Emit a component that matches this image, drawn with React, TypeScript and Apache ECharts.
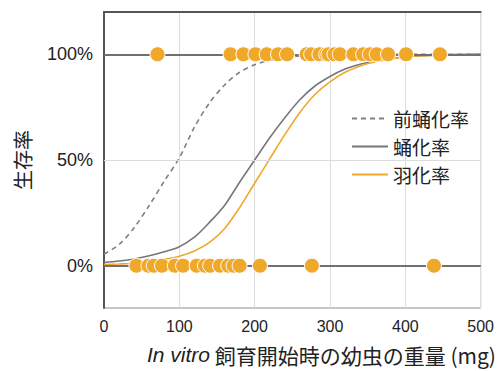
import React, { useEffect, useRef } from "react";
import * as echarts from "echarts";

// sample positions along the x axis (mg) for the fitted curves
const curveX = [0, 20, 40, 60, 80, 100, 120, 140, 160, 180, 200, 220, 240, 260, 280, 300, 320, 340, 360, 380, 400, 420, 440, 460, 480, 500];
// 前蛹化率 (dashed)
const prepupa = [0.055, 0.1, 0.18, 0.285, 0.4, 0.51, 0.655, 0.77, 0.855, 0.915, 0.95, 0.972, 0.985, 0.992, 0.996, 0.998, 0.999, 1, 1, 1, 1, 1, 1, 1, 1, 1];
// 蛹化率 (gray)
const pupa = [0.015, 0.022, 0.032, 0.047, 0.066, 0.09, 0.135, 0.205, 0.285, 0.395, 0.5, 0.605, 0.7, 0.785, 0.85, 0.895, 0.93, 0.953, 0.967, 0.978, 0.987, 0.993, 0.996, 0.998, 0.999, 1];
// 羽化率 (orange)
const eclosion = [0.005, 0.008, 0.012, 0.02, 0.03, 0.045, 0.07, 0.11, 0.175, 0.275, 0.39, 0.505, 0.62, 0.725, 0.81, 0.87, 0.915, 0.945, 0.965, 0.978, 0.987, 0.993, 0.996, 0.998, 0.999, 1];

// individual larvae weights (mg): survived (100%) and died (0%)
const survived = [71, 168, 185, 201, 216, 231, 243, 269, 275, 286, 295, 298, 306, 313, 331, 344, 353, 362, 377, 401, 446];
const died = [43, 59, 66, 77, 94, 105, 123, 134, 141, 154, 165, 172, 180, 207, 276, 438];

const seriesNames = ["前蛹化率", "蛹化率", "羽化率"];
const yTicks = [0, 0.5, 1];

const ORANGE = "#f0a82a";
const GRAY = "#76777b";
const FONT = "'Liberation Sans', Arial, 'Noto Sans CJK JP', sans-serif";
const CJK = "'Noto Sans CJK JP', 'Liberation Sans', sans-serif";

export default function App() {
  const ref = useRef<HTMLDivElement>(null);
  useEffect(() => {
    if (!ref.current) return;
    const chart = echarts.init(ref.current, null, { renderer: "svg" });
    const curve = (vals: number[]) => curveX.map((x, i) => [x, vals[i]]);
    const lineSeries = (name: string, vals: number[], color: string, type: any) => ({
      name,
      type: "line",
      data: curve(vals),
      smooth: 0.3,
      symbol: "none",
      showSymbol: false,
      z: 3,
      lineStyle: { color, width: 1.6, type },
      itemStyle: { color },
    });
    chart.setOption({
      animation: false,
      grid: { left: 104, right: 16, top: 12, bottom: 63, show: true, borderColor: "#8c8c8c", borderWidth: 1 },
      legend: {
        orient: "vertical",
        left: 346,
        top: 104,
        itemWidth: 36,
        itemHeight: 10,
        itemGap: 9,
        data: seriesNames,
        itemStyle: { color: "transparent", borderWidth: 0, opacity: 0 },
        textStyle: { fontFamily: CJK, fontSize: 19, color: "#222" },
      },
      xAxis: [
        {
          type: "value",
          min: 0,
          max: 500,
          interval: 100,
          axisLine: { show: true, lineStyle: { color: "#8c8c8c", width: 1 } },
          axisTick: { show: false },
          axisLabel: { fontFamily: FONT, fontSize: 16, color: "#222", margin: 10 },
          splitLine: { show: true, lineStyle: { color: "#dcdcdc", width: 1 } },
        },
        {
          type: "value",
          position: "top",
          min: 0,
          max: 500,
          axisLine: { show: true, lineStyle: { color: "#555", width: 2 } },
          axisTick: { show: false },
          axisLabel: { show: false },
          splitLine: { show: false },
        },
      ],
      yAxis: {
        type: "value",
        min: -0.2,
        max: 1.2,
        interval: 0.1,
        axisLine: { show: true, lineStyle: { color: "#555", width: 2 } },
        axisTick: { show: false },
        splitLine: { show: false },
        axisLabel: {
          fontFamily: FONT,
          fontSize: 18,
          color: "#222",
          margin: 11,
          formatter: (v: number) => {
            const r = Math.round(v * 100) / 100;
            return yTicks.includes(r) ? Math.round(r * 100) + "%" : "";
          },
        },
        name: "生存率",
        nameLocation: "middle",
        nameRotate: 90,
        nameGap: 72,
        nameTextStyle: { fontFamily: CJK, fontSize: 20, color: "#222" },
      },
      graphic: [
        {
          type: "text",
          left: 147,
          top: 344,
          style: {
            text: "{i|In vitro} 飼育開始時の幼虫の重量 (mg)",
            fontFamily: CJK,
            fontSize: 21,
            fill: "#222",
            rich: {
              i: { fontFamily: FONT, fontStyle: "italic", fontSize: 21, fill: "#222" },
            },
          },
        },
      ],
      series: [
        {
          name: "refs",
          type: "line",
          data: [],
          silent: true,
          z: 1,
          markLine: {
            silent: true,
            symbol: "none",
            label: { show: false },
            data: [
              { yAxis: 0.5, lineStyle: { color: "#dcdcdc", width: 1, type: "solid" } },
              { yAxis: 0, lineStyle: { color: "#707070", width: 2, type: "solid" } },
              { yAxis: 1, lineStyle: { color: "#707070", width: 2, type: "solid" } },
            ],
          },
        },
        lineSeries(seriesNames[0], prepupa, "#808080", [5, 4]),
        lineSeries(seriesNames[1], pupa, GRAY, "solid"),
        lineSeries(seriesNames[2], eclosion, ORANGE, "solid"),
        {
          name: "survived",
          type: "scatter",
          data: survived.map((x) => [x, 1]),
          symbolSize: 15,
          z: 5,
          itemStyle: { color: ORANGE, borderColor: "#fff", borderWidth: 1, opacity: 1 },
        },
        {
          name: "died",
          type: "scatter",
          data: died.map((x) => [x, 0]),
          symbolSize: 15,
          z: 5,
          itemStyle: { color: ORANGE, borderColor: "#fff", borderWidth: 1, opacity: 1 },
        },
      ],
    });
    return () => chart.dispose();
  }, []);
  return <div ref={ref} style={{ width: 497, height: 371, position: "absolute", left: 0, top: 0 }} />;
}
